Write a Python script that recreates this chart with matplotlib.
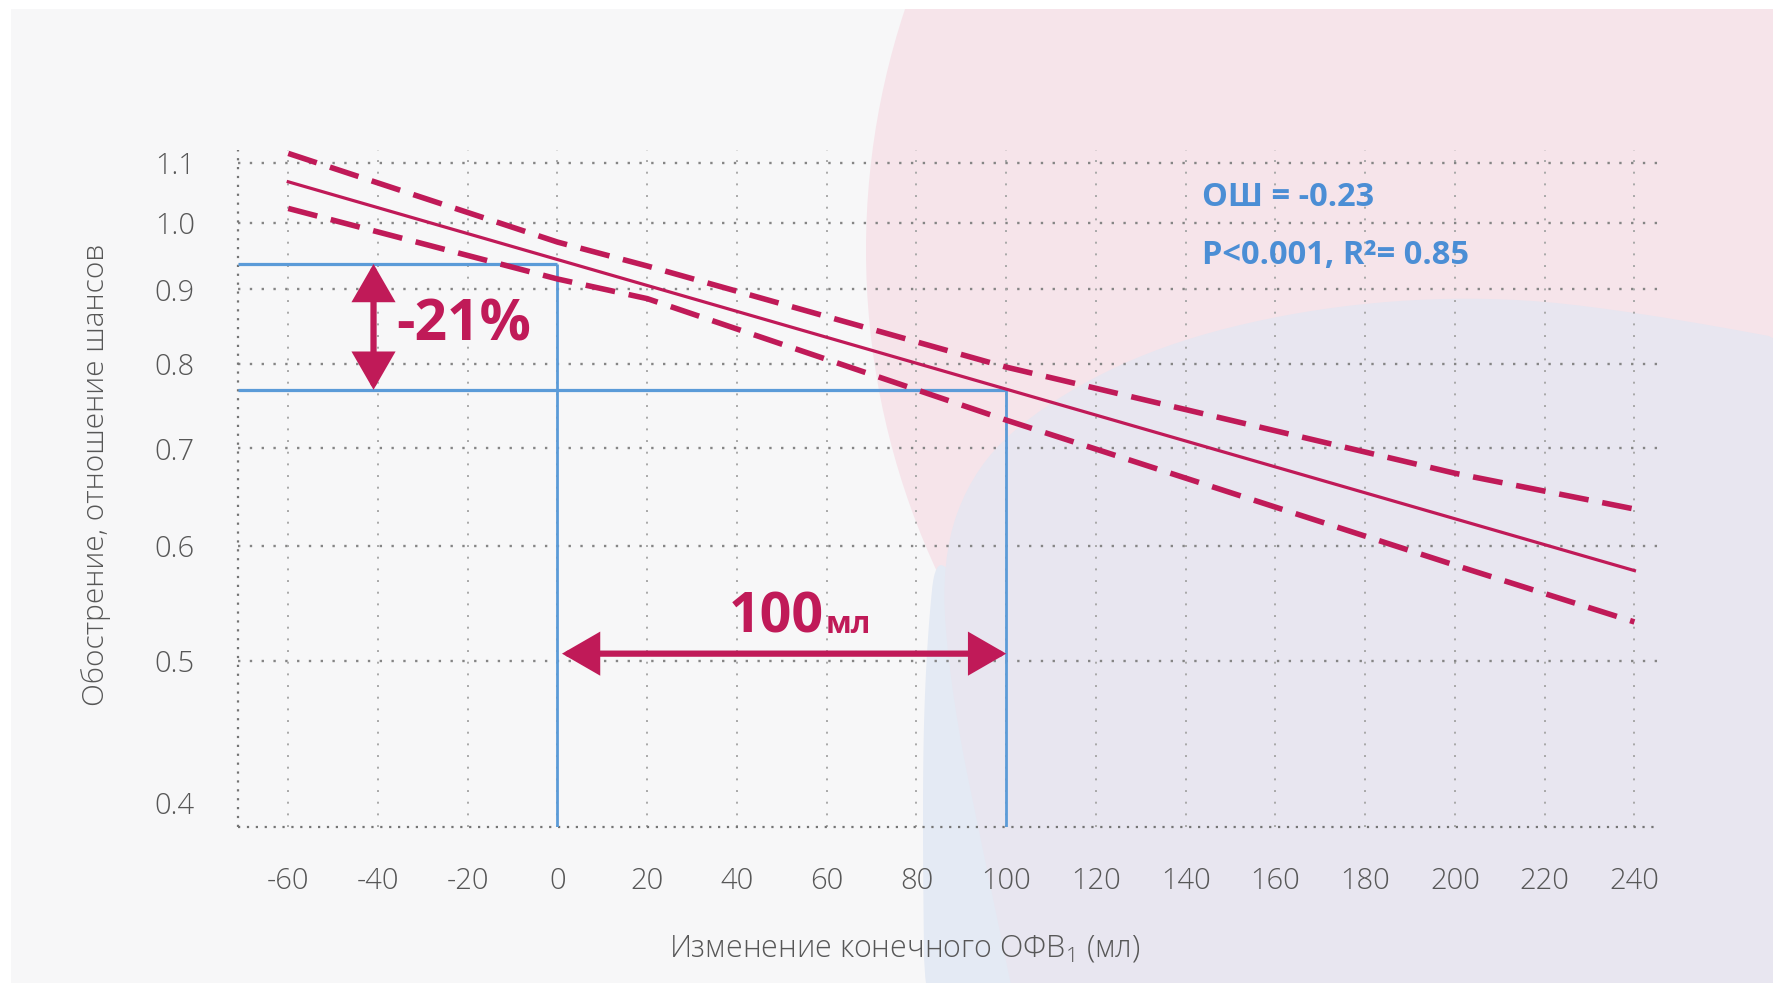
import matplotlib
matplotlib.use("Agg")
import matplotlib.pyplot as plt
import numpy as np
from matplotlib.patches import Circle, Polygon, Rectangle, FancyArrowPatch
from matplotlib.ticker import NullLocator, NullFormatter

# values
x_fit = [-60, 240]
or_fit = [1.067, 0.577]
x_ci = [-60, 0, 20, 100, 200, 240]
or_upper = [1.116, 0.970, 0.934, 0.796, 0.673, 0.636]
or_lower = [1.023, 0.915, 0.887, 0.732, 0.582, 0.532]
x_ref = [0, 100]
or_ref = [0.937, 0.768]
arrow_x = -41
arrow_y = 0.506
x_ticks = list(range(-60, 241, 20))
y_ticks = [0.4, 0.5, 0.6, 0.7, 0.8, 0.9, 1.0, 1.1]
y_labels = ["0.4", "0.5", "0.6", "0.7", "0.8", "0.9", "1.0", "1.1"]
y_grid = [0.5, 0.6, 0.7, 0.8, 0.9, 1.0, 1.1]

crimson = "#c01a58"
blue = "#5b9bd8"
blue_txt = "#4b8ed5"
grey_txt = "#575757"
font = ["Open Sans", "DejaVu Sans"]

W, H = 1773, 983
fig = plt.figure(figsize=(W / 100, H / 100), dpi=100)
fig.patch.set_facecolor("white")


def inch(x, y):
    # pixel position (from top-left) -> inches for dpi_scale_trans
    return (x / 100, (H - y) / 100)


def smooth(pts, n=4):
    # chaikin corner cutting, closed polygon
    p = np.array(pts, dtype=float)
    for _ in range(n):
        q = np.roll(p, -1, axis=0)
        p = np.column_stack([0.75 * p + 0.25 * q, 0.25 * p + 0.75 * q]).reshape(-1, 2)
    return p


# background panel with soft coloured blobs
bg = Rectangle(inch(11, H), (W - 11) / 100, (H - 9) / 100,
               transform=fig.dpi_scale_trans, fc="#f7f7f8", ec="none", zorder=-10)
fig.patches.append(bg)

pink = Circle(inch(1630, 250), 7.64, transform=fig.dpi_scale_trans,
              fc="#f6e4ea", ec="none", zorder=-9)
pink.set_clip_path(bg)
fig.patches.append(pink)

light_blue_pts = [(938, 530), (926, 650), (922, 800), (926, 1100), (1150, 1100), (1000, 700)]
light_blue = Polygon([inch(*p) for p in smooth(light_blue_pts)], closed=True,
                     transform=fig.dpi_scale_trans, fc="#e4eaf4", ec="none", zorder=-8)
light_blue.set_clip_path(bg)
fig.patches.append(light_blue)

lav_pts = [(1900, 360), (1600, 305), (1450, 296), (1300, 310), (1160, 345), (1050, 400),
           (975, 465), (940, 560), (952, 700), (985, 860), (1035, 1100), (1900, 1100)]
lav = Polygon([inch(*p) for p in smooth(lav_pts, 3)], closed=True,
              transform=fig.dpi_scale_trans, fc="#e8e6f0", ec="none", zorder=-7)
lav.set_clip_path(bg)
fig.patches.append(lav)

# axes placed to match the reference frame
x0, x1 = -71.2, 245.7
y0, y1 = 0.385, 1.122
ax = fig.add_axes([238 / W, 1 - 826.5 / H, 1422 / W, 676.5 / H])
ax.set_yscale("log")
ax.set_xlim(x0, x1)
ax.set_ylim(y0, y1)
ax.patch.set_visible(False)
for s in ax.spines.values():
    s.set_visible(False)

ax.yaxis.set_minor_locator(NullLocator())
ax.yaxis.set_minor_formatter(NullFormatter())
ax.set_yticks(y_ticks, labels=y_labels)
ax.set_xticks(x_ticks, labels=[str(v) for v in x_ticks])
ax.tick_params(length=0, labelsize=21, labelcolor=grey_txt)
ax.tick_params(axis="y", pad=31)
ax.tick_params(axis="x", pad=29)
for lab in ax.get_xticklabels() + ax.get_yticklabels():
    lab.set_fontfamily(font)
    lab.set_fontweight("light")

# dotted grid and frame
for y in y_grid:
    ax.axhline(y, color="#858585", lw=1.7, ls=(0, (1, 4)), zorder=1)
for x in x_ticks:
    ax.axvline(x, color="#a8a8a8", lw=1.4, ls=(0, (1, 5)), zorder=1)
ax.axvline(x0, color="#747474", lw=1.6, ls=(0, (1, 3)), zorder=1, clip_on=False)
ax.axhline(y0, color="#747474", lw=1.6, ls=(0, (1, 3)), zorder=1, clip_on=False)

# blue reference lines
ax.hlines(or_ref, x0, x_ref, color=blue, lw=2.3, zorder=3)
ax.vlines(x_ref, y0, or_ref, color=blue, lw=2.0, zorder=3)

# regression line and confidence limits
ax.plot(x_fit, or_fit, color=crimson, lw=2.3, zorder=4, clip_on=False)
ax.plot(x_ci, or_upper, color=crimson, lw=4, ls=(0, (5.4, 2.5)), zorder=4, clip_on=False)
ax.plot(x_ci, or_lower, color=crimson, lw=4, ls=(0, (5.4, 2.5)), zorder=4, clip_on=False)

# double arrows
arr_style = "<|-|>,head_length=1.3,head_width=0.75"
ax.add_patch(FancyArrowPatch((arrow_x, or_ref[0]), (arrow_x, or_ref[1]), arrowstyle=arr_style,
                             mutation_scale=16, lw=4.5, color=crimson, shrinkA=0, shrinkB=0,
                             joinstyle="miter", zorder=5))
ax.add_patch(FancyArrowPatch((x_ref[0] + 1, arrow_y), (x_ref[1], arrow_y), arrowstyle=arr_style,
                             mutation_scale=16, lw=4.5, color=crimson, shrinkA=0, shrinkB=0,
                             joinstyle="miter", zorder=5))

ax.text(-36, 0.850, "-21%", color=crimson, fontsize=41, fontweight="bold",
        family=font, ha="left", va="center", zorder=6)
ax.text(59.3, 0.523, "100", color=crimson, fontsize=40, fontweight="bold",
        family=font, ha="right", va="baseline", zorder=6)
ax.text(59.8, 0.523, "мл", color=crimson, fontsize=22, fontweight="bold",
        family=font, ha="left", va="baseline", zorder=6)

ax.text(143.6, 1.040, "ОШ = -0.23", color=blue_txt, fontsize=23.5, fontweight="bold",
        family=font, ha="left", va="center", zorder=6)
ax.text(143.6, 0.949, "P<0.001, R²= 0.85", color=blue_txt, fontsize=23.5, fontweight="bold",
        family=font, ha="left", va="center", zorder=6)

# axis titles
fig.text(96 / W, 1 - 475 / H, "Обострение, отношение шансов", rotation=90,
         color=grey_txt, fontsize=21.5, family=font, fontweight="light", ha="center", va="center")
fig.text(905 / W, 1 - 948 / H, "Изменение конечного ОФВ$_{\\mathregular{1}}$ (мл)",
         color=grey_txt, fontsize=22, family=font, fontweight="light", ha="center", va="center")

fig.savefig("out.png", dpi=100)
